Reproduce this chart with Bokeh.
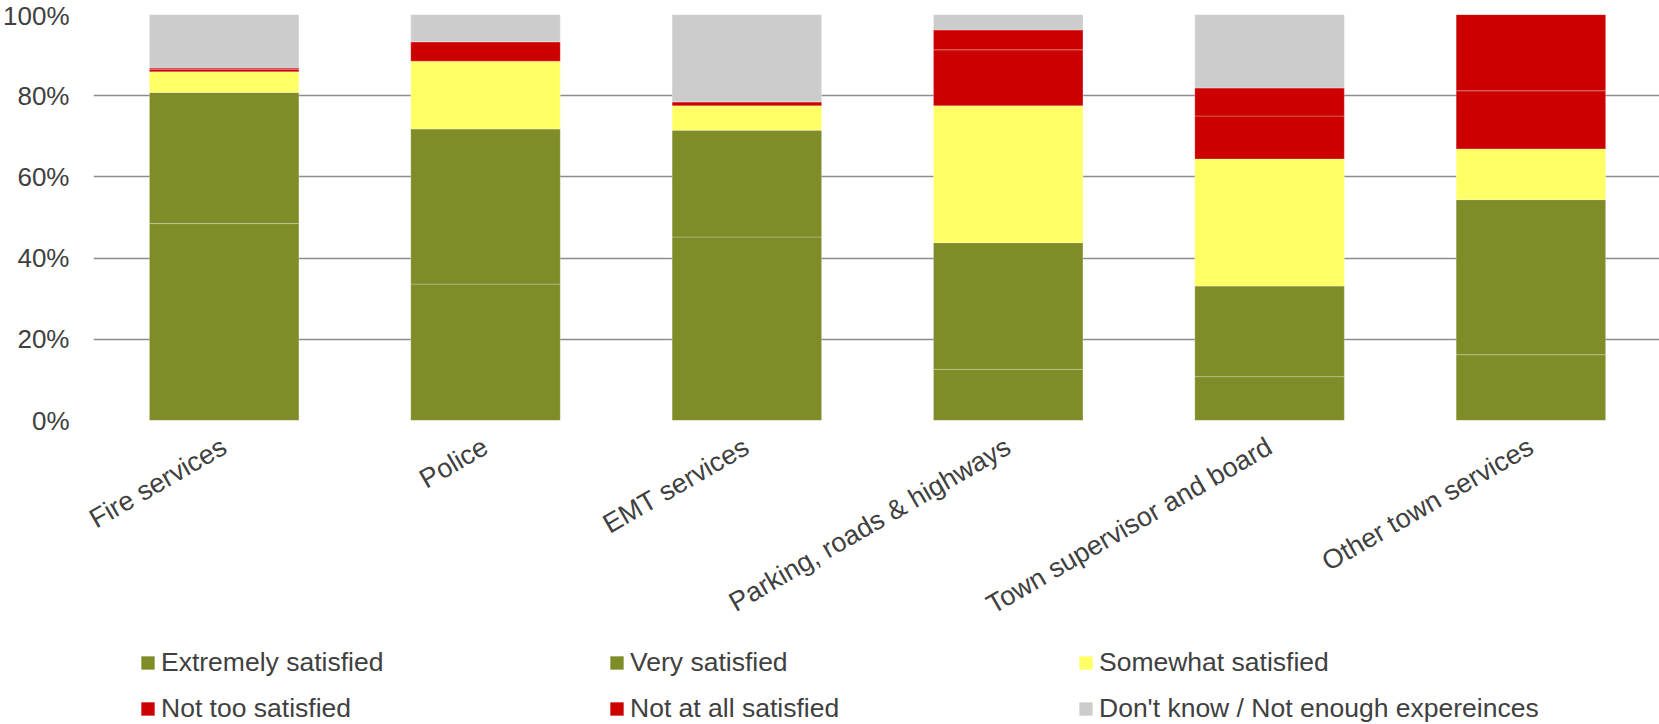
import math
from bokeh.plotting import figure
from bokeh.layouts import column
from bokeh.models import ColumnDataSource, Range1d, FixedTicker, Legend
from bokeh.embed import file_html
from bokeh.resources import INLINE

categories = ["Fire services", "Police", "EMT services", "Parking, roads & highways",
              "Town supervisor and board", "Other town services"]
series_keys = ["extremely", "very", "somewhat", "not_too", "not_at_all", "dont_know"]
series_names = ["Extremely satisfied", "Very satisfied", "Somewhat satisfied",
                "Not too satisfied", "Not at all satisfied", "Don't know / Not enough expereinces"]
extremely = [48.5, 33.6, 45.2, 12.6, 10.8, 16.2]
very = [32.3, 38.2, 26.3, 31.2, 22.3, 38.2]
somewhat = [5.1, 16.7, 6.0, 33.7, 31.3, 12.5]
not_too = [0.6, 4.8, 1.0, 13.8, 10.6, 14.3]
not_at_all = [0.3, 0.0, 0.0, 4.9, 6.9, 18.8]
dont_know = [13.2, 6.7, 21.5, 3.8, 18.1, 0.0]
y_ticks = [0, 20, 40, 60, 80, 100]
colors = ["#7F8C28", "#7F8C28", "#FFFF66", "#CC0000", "#CC0000", "#CCCCCC"]

xpos = list(range(len(categories)))
source = ColumnDataSource(dict(x=xpos, extremely=extremely, very=very, somewhat=somewhat,
                               not_too=not_too, not_at_all=not_at_all, dont_know=dont_know))

FONT = "Liberation Sans"
TXT = "#404040"
W = 1659

p = figure(width=W, height=638, x_range=Range1d(-0.5, 5.492), y_range=Range1d(0, 100),
           output_backend="svg", toolbar_location=None,
           min_border_left=92, min_border_right=0, min_border_top=14, min_border_bottom=218)
p.outline_line_color = None
p.background_fill_color = "white"
p.border_fill_color = "white"

p.vbar_stack(series_keys, x="x", width=0.572, color=colors, source=source,
             line_color="white", line_alpha=0.25, line_width=1)

p.yaxis.ticker = FixedTicker(ticks=y_ticks)
p.yaxis.major_label_overrides = {t: f"{t}%" for t in y_ticks}
p.xaxis.ticker = FixedTicker(ticks=xpos)
p.xaxis.major_label_overrides = {i: c for i, c in zip(xpos, categories)}
p.xaxis.major_label_orientation = math.pi / 6
for ax in (p.xaxis, p.yaxis):
    ax.axis_line_color = None
    ax.major_tick_line_color = None
    ax.minor_tick_line_color = None
    ax.major_label_text_font = FONT
    ax.major_label_text_color = TXT
p.yaxis.major_label_text_font_size = "26px"
p.xaxis.major_label_text_font_size = "27px"
p.yaxis.major_label_standoff = 18
p.xaxis.major_label_standoff = 18

p.xgrid.visible = False
p.ygrid.grid_line_color = "#8C8C8C"
p.ygrid.grid_line_width = 1.5

# legend in its own strip below the chart (hidden stacked proxies carry the styles)
pl = figure(width=W, height=86, x_range=Range1d(-0.5, 5.492), y_range=Range1d(0, 100),
            output_backend="svg", toolbar_location=None, x_axis_type=None, y_axis_type=None,
            min_border=0)
pl.outline_line_color = None
pl.xgrid.visible = False
pl.ygrid.visible = False
proxies = pl.vbar_stack(series_keys, x="x", width=0.572, color=colors, source=source,
                        line_color="white", line_alpha=0.25, visible=False)
leg = Legend(items=[(name, [r]) for name, r in zip(series_names, proxies)])
leg.location = (46, 0)
leg.orientation = "horizontal"
leg.ncols = 3
leg.glyph_width = 17
leg.glyph_height = 17
leg.label_standoff = 5
leg.label_width = 432
leg.label_height = 30
leg.spacing = 15
leg.padding = 0
leg.margin = 0
leg.border_line_color = None
leg.background_fill_alpha = 0
leg.inactive_fill_alpha = 0
leg.label_text_font = FONT
leg.label_text_font_size = "26.5px"
leg.label_text_color = TXT
pl.add_layout(leg, "center")

open("out.html", "w").write(file_html(column(p, pl, spacing=0), INLINE))
